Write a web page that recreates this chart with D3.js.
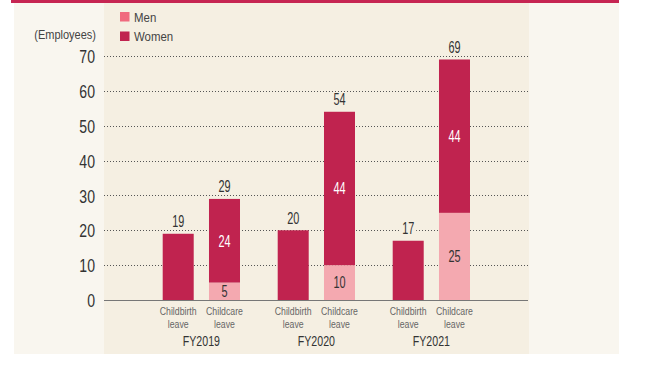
<!DOCTYPE html>
<html>
<head>
<meta charset="utf-8">
<script src="https://cdn.jsdelivr.net/npm/d3@7"></script>
<style>
  html, body { margin: 0; padding: 0; background: #ffffff; }
  svg { display: block; }
  text { font-family: "Liberation Sans", Arial, sans-serif; }
</style>
</head>
<body>
<svg id="chart" width="666" height="365"></svg>
<script>
// Employees taking leave, by fiscal year and leave type
const years = ["FY2019", "FY2020", "FY2021"];
const leaveTypes = ["Childbirth leave", "Childcare leave"];
const menChildbirth = [0, 0, 0];
const womenChildbirth = [19, 20, 17];
const menChildcare = [5, 10, 25];
const womenChildcare = [24, 44, 44];
const yTicks = [0, 10, 20, 30, 40, 50, 60, 70];
const seriesNames = ["Men", "Women"];

const colors = { Men: "#f4a9b0", Women: "#c0234f" };
const legendColors = { Men: "#f06a7e", Women: "#c0234f" };

const svg = d3.select("#chart");

// condensed text: horizontally squeezed around its anchor point
function label(g, x, y, txt, opts) {
  const sx = opts.sx || 1;
  return g.append("text")
    .attr("transform", `translate(${x},${y}) scale(${sx},1)`)
    .attr("x", 0).attr("y", 0)
    .attr("dy", opts.dy || null)
    .attr("text-anchor", opts.anchor || "middle")
    .attr("font-size", opts.size)
    .attr("fill", opts.fill)
    .text(txt);
}

// panels
svg.append("rect").attr("x", 14).attr("y", 3).attr("width", 605).attr("height", 351).attr("fill", "#f9f6ef");
svg.append("rect").attr("x", 104).attr("y", 3).attr("width", 425).attr("height", 351).attr("fill", "#f5efe2");
svg.append("rect").attr("x", 11).attr("y", 0).attr("width", 608).attr("height", 3).attr("fill", "#c62552");

const y = d3.scaleLinear().domain([0, 70]).range([300, 56]);
const x0 = d3.scaleBand().domain(years).range([143.85, 488.85]);
const x1 = d3.scaleBand().domain(leaveTypes).range([18.85, 96.15]).paddingInner(0.33);

// table: one row per bar
const rows = [];
years.forEach((yr, i) => {
  rows.push({ year: yr, type: leaveTypes[0], Men: menChildbirth[i], Women: womenChildbirth[i] });
  rows.push({ year: yr, type: leaveTypes[1], Men: menChildcare[i], Women: womenChildcare[i] });
});
const stack = d3.stack().keys(seriesNames)(rows);

// gridlines
svg.append("g").selectAll("line").data(yTicks.filter(t => t > 0)).join("line")
  .attr("x1", 104).attr("x2", 529)
  .attr("y1", d => Math.round(y(d)) + 0.5).attr("y2", d => Math.round(y(d)) + 0.5)
  .attr("stroke", "#555").attr("stroke-width", 1).attr("stroke-dasharray", "1,2");

// y axis labels (condensed)
const yAxis = d3.axisLeft(y).tickValues(yTicks).tickSize(0).tickPadding(0);
const gy = svg.append("g").attr("transform", "translate(95,0)").call(yAxis);
gy.select(".domain").remove();
gy.selectAll(".tick").each(function () {
  const t = d3.select(this).select("text");
  t.attr("transform", "scale(0.76,1)").attr("x", 0)
    .attr("font-size", 18.5).attr("fill", "#333").attr("dy", "0.36em")
    .style("font-family", '"Liberation Sans", Arial, sans-serif');
});

label(svg, 96, 39, "(Employees)", { size: 12.5, sx: 0.88, fill: "#444", anchor: "end" });

// bars
const barX = d => x0(d.data.year) + x1(d.data.type);
svg.append("g").selectAll("g").data(stack).join("g")
  .attr("fill", s => colors[s.key])
  .selectAll("rect").data(s => s.filter(d => d[1] > d[0])).join("rect")
  .attr("x", barX)
  .attr("width", x1.bandwidth())
  .attr("y", d => y(d[1]))
  .attr("height", d => y(d[0]) - y(d[1]));

// baseline
svg.append("line").attr("x1", 104).attr("x2", 528).attr("y1", 300.5).attr("y2", 300.5)
  .attr("stroke", "#777").attr("stroke-width", 1.2);

// segment labels (only where a bar holds both series)
const seg = svg.append("g");
stack.forEach(s => {
  s.forEach(d => {
    if (d.data.Men > 0 && d[1] > d[0]) {
      label(seg, barX(d) + x1.bandwidth() / 2, (y(d[0]) + y(d[1])) / 2, d[1] - d[0],
        { size: 16, sx: 0.68, dy: "0.36em", fill: s.key === "Women" ? "#ffffff" : "#333" });
    }
  });
});

// totals above bars
const totals = svg.append("g");
rows.forEach(r => {
  const total = r.Men + r.Women;
  const cx = x0(r.year) + x1(r.type) + x1.bandwidth() / 2;
  const ty = y(total) - 12.5;
  totals.append("rect").attr("x", cx - 8).attr("y", ty - 7).attr("width", 16).attr("height", 14)
    .attr("fill", "#f5efe2");
  label(totals, cx, ty, total, { size: 16, sx: 0.68, dy: "0.36em", fill: "#333" });
});

// category labels
const cat = svg.append("g");
years.forEach(yr => {
  leaveTypes.forEach(t => {
    const cx = x0(yr) + x1(t) + x1.bandwidth() / 2;
    const words = t.split(" ");
    label(cat, cx, 314.5, words[0], { size: 11.5, sx: 0.76, fill: "#666" });
    label(cat, cx, 328, words[1], { size: 11.5, sx: 0.76, fill: "#666" });
  });
  label(cat, x0(yr) + x0.bandwidth() / 2, 346, yr, { size: 14, sx: 0.76, fill: "#333" });
});

// legend
const legend = svg.append("g");
seriesNames.forEach((n, i) => {
  const ly = 12 + i * 19.5;
  legend.append("rect").attr("x", 120).attr("y", ly).attr("width", 9.5).attr("height", 9.5)
    .attr("fill", legendColors[n]);
  label(legend, 134, ly + 5, n, { size: 13, sx: 0.88, dy: "0.36em", anchor: "start", fill: "#444" });
});
</script>
</body>
</html>
